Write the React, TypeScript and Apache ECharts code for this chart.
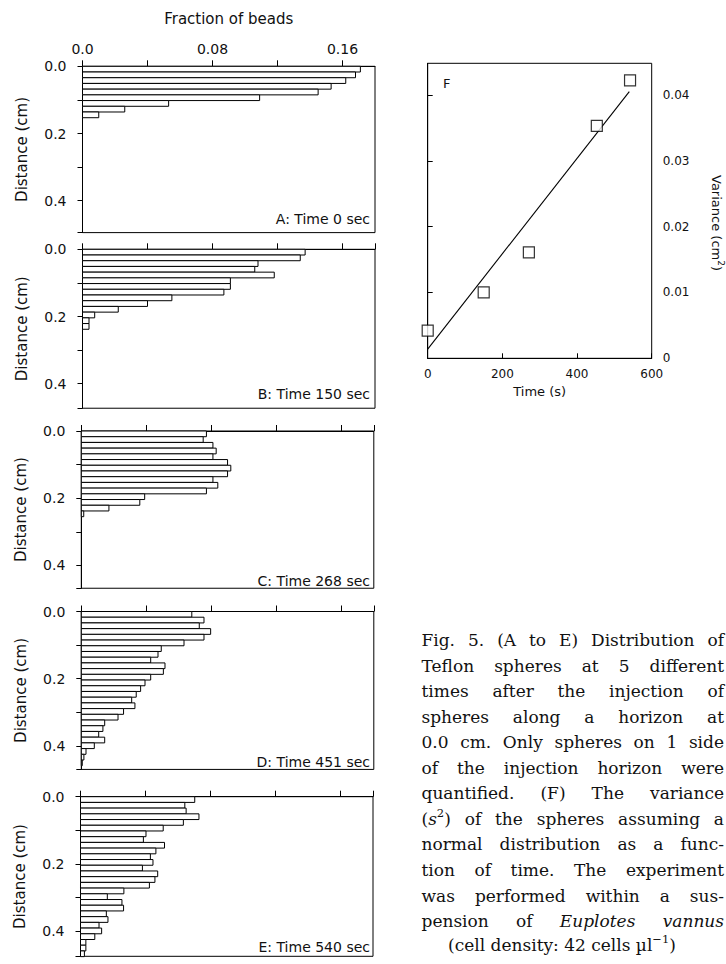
import { useEffect, useRef } from 'react';
import * as echarts from 'echarts';

// ---------- data ----------
const BIN = 0.017; // depth of one histogram bin (cm)
const FRAC_A = [0.171, 0.168, 0.162, 0.153, 0.145, 0.109, 0.053, 0.026, 0.010];
const FRAC_B = [0.137, 0.134, 0.108, 0.106, 0.118, 0.091, 0.091, 0.087, 0.055, 0.040, 0.022, 0.0075, 0.004, 0.004];
const FRAC_C = [0.077, 0.075, 0.081, 0.083, 0.081, 0.090, 0.092, 0.090, 0.081, 0.084, 0.077, 0.039, 0.036, 0.017, 0.0015];
const FRAC_D = [0.068, 0.0755, 0.0726, 0.0796, 0.0755, 0.0632, 0.0492, 0.0472, 0.0427, 0.0515, 0.0505, 0.0427, 0.0392, 0.0365, 0.0338, 0.031, 0.033, 0.026, 0.0226, 0.0144, 0.0133, 0.0107, 0.0144, 0.008, 0.0029, 0.0016, 0.0006];
const FRAC_E = [0.0703, 0.0642, 0.065, 0.0729, 0.0633, 0.0509, 0.0403, 0.0387, 0.0517, 0.0464, 0.043, 0.0446, 0.0381, 0.0475, 0.0458, 0.0424, 0.0267, 0.0165, 0.0255, 0.0265, 0.0159, 0.0169, 0.0114, 0.013, 0.0088, 0.0033, 0.0033, 0.0024];
const PANEL_DATA = [FRAC_A, FRAC_B, FRAC_C, FRAC_D, FRAC_E];
const PANEL_LABELS = ['A: Time 0 sec', 'B: Time 150 sec', 'C: Time 268 sec', 'D: Time 451 sec', 'E: Time 540 sec'];
const DEPTH_MAX = [0.495, 0.473, 0.468, 0.47, 0.475];
const FRACTION_MAX = 0.18;

const TIME_S = [0, 150, 271, 453, 542];
const VARIANCE = [0.0042, 0.0100, 0.0161, 0.0353, 0.0422];
const FIT_TIME = [0, 540];
const FIT_VARIANCE = [0.0014, 0.0405];

const CAPTION = [
  'Fig. 5. (A to E) Distribution of',
  'Teflon spheres at 5 different',
  'times after the injection of',
  'spheres along a horizon at',
  '0.0 cm. Only spheres on 1 side',
  'of the injection horizon were',
  'quantified. (F) The variance',
  '(_s_^2^) of the spheres assuming a',
  'normal distribution as a func-',
  'tion of time. The experiment',
  'was performed within a sus-',
  'pension of _Euplotes_ _vannus_',
];
const CAPTION_LAST = '(cell density: 42 cells µl^−1^)';

// ---------- layout ----------
const SANS = '"DejaVu Sans", sans-serif';
const SERIF = '"DejaVu Serif", serif';
const PX_PER_CM = 336;
const PX_PER_FRAC = 1625;
const PANEL_LEFT = [82.5, 82.5, 81.3, 81.3, 80.5];
const PANEL_TOP = [66.3, 249.3, 431, 611.5, 796.7];
const PANEL_LABEL_Y = [219, 394, 580.7, 761.7, 946.7];

const CAP_SIZE = 17;
const SUP_SIZE = 11.5;
const CAP_L = 421.5;
const CAP_R = 724;
const CAP_Y0 = 640;
const CAP_DY = 25.55;

type Seg = { t: string; k: 'n' | 'i' | 'sup' };

function parseWord(w: string): Seg[] {
  const out: Seg[] = [];
  const re = /_([^_]+)_|\^([^^]+)\^|([^_^]+)/g;
  let m: RegExpExecArray | null;
  while ((m = re.exec(w))) {
    if (m[1]) out.push({ t: m[1], k: 'i' });
    else if (m[2]) out.push({ t: m[2], k: 'sup' });
    else if (m[3]) out.push({ t: m[3], k: 'n' });
  }
  return out;
}

export default function App() {
  const ref = useRef<HTMLDivElement>(null);
  useEffect(() => {
    if (!ref.current) return;
    const chart = echarts.init(ref.current, undefined, { renderer: 'svg' });

    const ctx = document.createElement('canvas').getContext('2d')!;
    const measure = (t: string, size: number, italic: boolean, fam = SERIF) => {
      ctx.font = `${italic ? 'italic ' : ''}${size}px ${fam}`;
      return ctx.measureText(t).width;
    };
    const segW = (s: Seg) => measure(s.t, s.k === 'sup' ? SUP_SIZE : CAP_SIZE, s.k === 'i');
    const segEl = (s: Seg, x: number, y: number) => ({
      type: 'text',
      x,
      y: s.k === 'sup' ? y - 6 : y,
      silent: true,
      style: {
        text: s.t,
        fontFamily: SERIF,
        fontSize: s.k === 'sup' ? SUP_SIZE : CAP_SIZE,
        fontStyle: s.k === 'i' ? 'italic' : 'normal',
        fill: '#111',
        align: 'left',
        verticalAlign: 'middle',
      },
    });

    const graphics: any[] = [];
    CAPTION.forEach((line, li) => {
      const y = CAP_Y0 + li * CAP_DY;
      const words = line.split(' ').map(parseWord);
      const widths = words.map((segs) => segs.reduce((a, s) => a + segW(s), 0));
      const total = widths.reduce((a, b) => a + b, 0);
      const gap = (CAP_R - CAP_L - total) / (words.length - 1);
      let x = CAP_L;
      words.forEach((segs, wi) => {
        let sx = x;
        segs.forEach((s) => {
          graphics.push(segEl(s, sx, y));
          sx += segW(s);
        });
        x += widths[wi] + gap;
      });
    });
    {
      const y = CAP_Y0 + CAPTION.length * CAP_DY - 2;
      const words = CAPTION_LAST.split(' ').map(parseWord);
      const sp = measure(' ', CAP_SIZE, false);
      const widths = words.map((segs) => segs.reduce((a, s) => a + segW(s), 0));
      const total = widths.reduce((a, b) => a + b, 0) + sp * (words.length - 1);
      let x = 562 - total / 2;
      words.forEach((segs, wi) => {
        let sx = x;
        segs.forEach((s) => {
          graphics.push(segEl(s, sx, y));
          sx += segW(s);
        });
        x += widths[wi] + sp;
      });
    }

    // panel labels
    PANEL_LABELS.forEach((t, i) => {
      graphics.push({
        type: 'text',
        x: 370,
        y: PANEL_LABEL_Y[i],
        silent: true,
        style: { text: t, fontFamily: SANS, fontSize: 14, fill: '#111', align: 'right', verticalAlign: 'middle' },
      });
    });
    graphics.push({
      type: 'text',
      x: 443,
      y: 83,
      silent: true,
      style: { text: 'F', fontFamily: SANS, fontSize: 13, fill: '#111', align: 'left', verticalAlign: 'middle' },
    });
    // Variance (cm2) rotated name
    {
      const fs = 13;
      const a = 'Variance (cm';
      const wa = measure(a, fs, false, SANS);
      const w2 = measure('2', 9, false, SANS);
      const wc = measure(')', fs, false, SANS);
      const tot = wa + w2 + wc;
      const x0 = -tot / 2;
      graphics.push({
        type: 'group',
        x: 716,
        y: 223,
        rotation: -Math.PI / 2,
        children: [
          { type: 'text', x: x0, y: 0, style: { text: a, fontFamily: SANS, fontSize: fs, fill: '#111', align: 'left', verticalAlign: 'middle' } },
          { type: 'text', x: x0 + wa, y: -5, style: { text: '2', fontFamily: SANS, fontSize: 9, fill: '#111', align: 'left', verticalAlign: 'middle' } },
          { type: 'text', x: x0 + wa + w2, y: 0, style: { text: ')', fontFamily: SANS, fontSize: fs, fill: '#111', align: 'left', verticalAlign: 'middle' } },
        ],
      });
    }

    const axisLine = { show: true, lineStyle: { color: '#000', width: 1 } };
    const grids: any[] = [];
    const xAxes: any[] = [];
    const yAxes: any[] = [];
    const series: any[] = [];

    PANEL_DATA.forEach((vals, i) => {
      grids.push({
        left: PANEL_LEFT[i],
        top: PANEL_TOP[i],
        width: FRACTION_MAX * PX_PER_FRAC,
        height: DEPTH_MAX[i] * PX_PER_CM,
        show: true,
        borderColor: '#000',
        borderWidth: 1,
        backgroundColor: 'transparent',
      });
      xAxes.push({
        gridIndex: i,
        type: 'value',
        position: 'top',
        min: 0,
        max: FRACTION_MAX,
        interval: 0.04,
        axisLine,
        axisTick: { show: true, inside: false, length: 6, lineStyle: { color: '#000' } },
        splitLine: { show: false },
        axisLabel: {
          show: i === 0,
          margin: 10,
          fontFamily: SANS,
          fontSize: 14,
          color: '#111',
          showMaxLabel: false,
          formatter: (v: number) => {
            const k = v / 0.04;
            if (Math.abs(k - Math.round(k)) > 1e-6 || Math.round(k) % 2 !== 0) return '';
            return Math.round(k) === 0 ? '0.0' : v.toFixed(2);
          },
        },
        name: i === 0 ? 'Fraction of beads' : '',
        nameLocation: 'middle',
        nameGap: 40,
        nameTextStyle: { fontFamily: SANS, fontSize: 15, color: '#111' },
      });
      yAxes.push({
        gridIndex: i,
        type: 'value',
        inverse: true,
        min: 0,
        max: DEPTH_MAX[i],
        interval: 0.1,
        axisLine,
        axisTick: { show: true, inside: false, length: 5, lineStyle: { color: '#000' } },
        splitLine: { show: false },
        axisLabel: {
          margin: 16,
          fontFamily: SANS,
          fontSize: 14,
          color: '#111',
          formatter: (v: number) => {
            const k = v * 10;
            if (Math.abs(k - Math.round(k)) > 1e-6 || Math.round(k) % 2 !== 0) return '';
            return v.toFixed(1);
          },
        },
        name: 'Distance (cm)',
        nameLocation: 'middle',
        nameGap: 53,
        nameTextStyle: { fontFamily: SANS, fontSize: 15, color: '#111' },
      });
      series.push({
        type: 'custom',
        xAxisIndex: i,
        yAxisIndex: i,
        encode: { x: 1, y: 0 },
        data: vals.map((v, j) => [j * BIN, v]),
        renderItem: (_p: any, api: any) => {
          const y0 = api.value(0);
          const v = api.value(1);
          const p0 = api.coord([0, y0]);
          const p1 = api.coord([v, y0 + BIN]);
          return {
            type: 'rect',
            shape: { x: p0[0], y: p0[1], width: p1[0] - p0[0], height: p1[1] - p0[1] },
            style: { fill: '#fff', stroke: '#000', lineWidth: 1 },
          };
        },
      });
    });

    // panel F
    grids.push({ left: 427.7, top: 63.3, width: 224, height: 295, show: true, borderColor: '#000', borderWidth: 1, backgroundColor: 'transparent' });
    xAxes.push({
      gridIndex: 5,
      type: 'value',
      position: 'bottom',
      min: 0,
      max: 600,
      interval: 200,
      axisLine,
      axisTick: { show: true, inside: true, length: 5, lineStyle: { color: '#000' } },
      splitLine: { show: false },
      axisLabel: { margin: 10, fontFamily: SANS, fontSize: 12, color: '#111' },
      name: 'Time (s)',
      nameLocation: 'middle',
      nameGap: 27,
      nameTextStyle: { fontFamily: SANS, fontSize: 13, color: '#111' },
    });
    yAxes.push({
      gridIndex: 5,
      type: 'value',
      position: 'right',
      min: 0,
      max: 0.0448,
      interval: 0.01,
      axisLine,
      axisTick: { show: true, inside: false, length: 5, lineStyle: { color: '#000' } },
      splitLine: { show: false },
      axisLabel: {
        margin: 11,
        fontFamily: SANS,
        fontSize: 12,
        color: '#111',
        showMaxLabel: false,
        formatter: (v: number) => {
          const k = v * 100;
          if (Math.abs(k - Math.round(k)) > 1e-6) return '';
          return Math.round(k) === 0 ? '0' : v.toFixed(2);
        },
      },
    });
    series.push({
      type: 'line',
      xAxisIndex: 5,
      yAxisIndex: 5,
      data: FIT_TIME.map((t, i) => [t, FIT_VARIANCE[i]]),
      showSymbol: false,
      symbol: 'none',
      lineStyle: { color: '#000', width: 1.1 },
      z: 2,
    });
    series.push({
      type: 'scatter',
      xAxisIndex: 5,
      yAxisIndex: 5,
      data: TIME_S.map((t, i) => [t, VARIANCE[i]]),
      symbol: 'rect',
      symbolSize: 11,
      itemStyle: { color: '#fff', borderColor: '#000', borderWidth: 1.2 },
      z: 3,
    });

    chart.setOption({
      animation: false,
      backgroundColor: '#fff',
      grid: grids,
      xAxis: xAxes,
      yAxis: yAxes,
      series,
      graphic: graphics,
    });
    return () => chart.dispose();
  }, []);
  return <div ref={ref} style={{ position: 'fixed', left: 0, top: 0, width: 726, height: 964 }} />;
}
